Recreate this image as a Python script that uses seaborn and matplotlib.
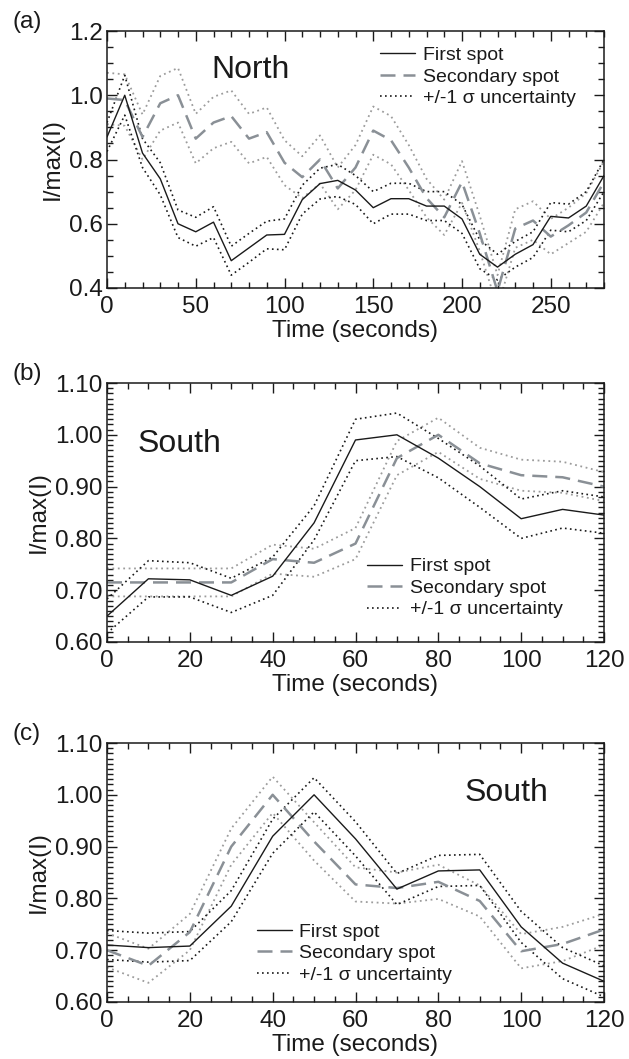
import numpy as np
import pandas as pd
import matplotlib
matplotlib.use("Agg")
import matplotlib.pyplot as plt
import seaborn as sns
from matplotlib.ticker import MultipleLocator, FormatStrFormatter

# ---------------- data ----------------
time_a = list(range(0, 281, 10))
first_a = [0.87, 1.00, 0.82, 0.74, 0.60, 0.575, 0.605, 0.485, 0.525, 0.565, 0.567,
           0.675, 0.725, 0.735, 0.705, 0.65, 0.678, 0.678, 0.655, 0.655, 0.615,
           0.505, 0.465, 0.505, 0.535, 0.623, 0.618, 0.655, 0.75]
sigma1_a = [0.045, 0.062, 0.045, 0.05, 0.043, 0.045, 0.048, 0.045, 0.045, 0.043, 0.048,
            0.045, 0.048, 0.05, 0.045, 0.05, 0.048, 0.048, 0.045, 0.045, 0.045,
            0.045, 0.04, 0.04, 0.04, 0.043, 0.043, 0.045, 0.05]
second_a = [0.99, 0.985, 0.87, 0.975, 1.00, 0.865, 0.915, 0.935, 0.865, 0.885, 0.79,
            0.745, 0.80, 0.71, 0.775, 0.89, 0.86, 0.775, 0.68, 0.62, 0.73,
            0.57, 0.39, 0.585, 0.61, 0.56, 0.595, 0.635, 0.73]
sigma2_a = [0.08, 0.08, 0.07, 0.085, 0.085, 0.077, 0.08, 0.08, 0.077, 0.077, 0.07,
            0.065, 0.075, 0.065, 0.07, 0.075, 0.075, 0.07, 0.06, 0.055, 0.065,
            0.055, 0.05, 0.06, 0.06, 0.055, 0.055, 0.06, 0.065]

time_b = list(range(0, 121, 10))
first_b = [0.65, 0.722, 0.72, 0.69, 0.727, 0.83, 0.99, 1.00, 0.955, 0.90, 0.838, 0.856, 0.845]
sigma1_b = [0.033, 0.035, 0.033, 0.033, 0.037, 0.033, 0.04, 0.042, 0.038, 0.04, 0.038, 0.036, 0.035]
second_b = [0.715, 0.715, 0.715, 0.715, 0.76, 0.753, 0.79, 0.955, 1.00, 0.945, 0.922, 0.918, 0.90]
sigma2_b = [0.027, 0.027, 0.027, 0.027, 0.028, 0.027, 0.03, 0.033, 0.033, 0.03, 0.03, 0.03, 0.028]

time_c = list(range(0, 121, 10))
first_c = [0.71, 0.705, 0.708, 0.785, 0.92, 1.00, 0.915, 0.818, 0.853, 0.855, 0.745, 0.675, 0.64]
sigma1_c = [0.028, 0.028, 0.028, 0.03, 0.033, 0.033, 0.033, 0.03, 0.03, 0.03, 0.03, 0.03, 0.03]
second_c = [0.70, 0.67, 0.735, 0.90, 1.00, 0.91, 0.827, 0.82, 0.832, 0.795, 0.698, 0.712, 0.74]
sigma2_c = [0.033, 0.033, 0.035, 0.035, 0.035, 0.037, 0.033, 0.03, 0.033, 0.03, 0.033, 0.033, 0.03]

panel_tags = ["(a)", "(b)", "(c)"]
region_names = ["North", "South", "South"]
legend_labels = ["First spot", "Secondary spot", "+/-1 \u03c3 uncertainty"]

# ---------------- style ----------------
sns.set_theme(style="white")
plt.rcParams["font.family"] = ["Liberation Sans", "DejaVu Sans"]
plt.rcParams["axes.linewidth"] = 1.1
plt.rcParams["axes.edgecolor"] = "#1a1a1a"
plt.rcParams["text.color"] = "#1a1a1a"
plt.rcParams["axes.labelcolor"] = "#1a1a1a"
plt.rcParams["xtick.color"] = "#1a1a1a"
plt.rcParams["ytick.color"] = "#1a1a1a"

BLACK = "#1a1a1a"
GRAY = "#8a9096"
GRAY_DOT = "#9c9c9c"
DASH = (0, (6, 3.2))
DOT = (0, (1, 2))
FS = 17.5

fig = plt.figure(figsize=(6.29, 10.59), dpi=100)
L, W = 107 / 629, 497 / 629
axes = [
    fig.add_axes([L, 1 - 288 / 1059, W, 257 / 1059]),
    fig.add_axes([L, 1 - 642 / 1059, W, 259 / 1059]),
    fig.add_axes([L, 1 - 1002 / 1059, W, 259 / 1059]),
]

panels = [
    (time_a, first_a, sigma1_a, second_a, sigma2_a),
    (time_b, first_b, sigma1_b, second_b, sigma2_b),
    (time_c, first_c, sigma1_c, second_c, sigma2_c),
]
xlims = [(0, 280), (0, 120), (0, 120)]
ylims = [(0.4, 1.2), (0.6, 1.1), (0.6, 1.1)]
xmaj = [50, 20, 20]
xmin = [10, 5, 5]
ymaj = [0.2, 0.1, 0.1]
ymin = [0.05, 0.01, 0.01]
yfmt = ["%.1f", "%.2f", "%.2f"]
region_xy = [(81, 1.08), (17.4, 0.983), (96.4, 1.003)]
legend_anchor = [(0.55, 0.94), (0.524, 0.325), (0.301, 0.305)]

for ax, (t, f, s1, s2m, s2), xl, yl, xM, xm, yM, ym, fm, rxy, la, tag, reg in zip(
        axes, panels, xlims, ylims, xmaj, xmin, ymaj, ymin, yfmt, region_xy,
        legend_anchor, panel_tags, region_names):
    df = pd.DataFrame({"t": t, "first": f, "s1": s1, "second": s2m, "s2": s2})
    df["f_hi"] = df["first"] + df["s1"]
    df["f_lo"] = df["first"] - df["s1"]
    df["s_hi"] = df["second"] + df["s2"]
    df["s_lo"] = df["second"] - df["s2"]

    sns.lineplot(data=df, x="t", y="s_hi", ax=ax, color=GRAY_DOT, lw=1.3, linestyle=DOT)
    sns.lineplot(data=df, x="t", y="s_lo", ax=ax, color=GRAY_DOT, lw=1.3, linestyle=DOT)
    sns.lineplot(data=df, x="t", y="f_hi", ax=ax, color=BLACK, lw=1.2, linestyle=DOT)
    sns.lineplot(data=df, x="t", y="f_lo", ax=ax, color=BLACK, lw=1.2, linestyle=DOT)
    sns.lineplot(data=df, x="t", y="second", ax=ax, color=GRAY, lw=1.8, linestyle=DASH)
    sns.lineplot(data=df, x="t", y="first", ax=ax, color=BLACK, lw=1.0, linestyle="-")

    lines = ax.get_lines()
    handles = [lines[5], lines[4], lines[2]]
    ax.legend(handles, legend_labels, loc="upper left", bbox_to_anchor=la,
              frameon=False, fontsize=14, handlelength=1.8, handletextpad=0.4,
              labelspacing=0.2, borderpad=0, borderaxespad=0)

    ax.set_xlim(*xl)
    ax.set_ylim(*yl)
    ax.xaxis.set_major_locator(MultipleLocator(xM))
    ax.xaxis.set_minor_locator(MultipleLocator(xm))
    ax.yaxis.set_major_locator(MultipleLocator(yM))
    ax.yaxis.set_minor_locator(MultipleLocator(ym))
    ax.yaxis.set_major_formatter(FormatStrFormatter(fm))
    ax.tick_params(which="both", direction="in", top=True, right=True,
                   bottom=True, left=True, width=1.0, labelsize=FS)
    ax.tick_params(axis="x", which="major", pad=6)
    ax.tick_params(axis="y", which="major", pad=3)
    ax.tick_params(which="major", length=7)
    ax.tick_params(which="minor", length=4)
    ax.set_xlabel("Time (seconds)", fontsize=FS, labelpad=1)
    ax.set_ylabel("I/max(I)", fontsize=FS, labelpad=4)
    ax.text(rxy[0], rxy[1], reg, fontsize=23, ha="center", va="center")
    ax.text(-0.19, 1.035, tag, transform=ax.transAxes, fontsize=FS,
            ha="left", va="center")

fig.savefig("out.png", dpi=100)
